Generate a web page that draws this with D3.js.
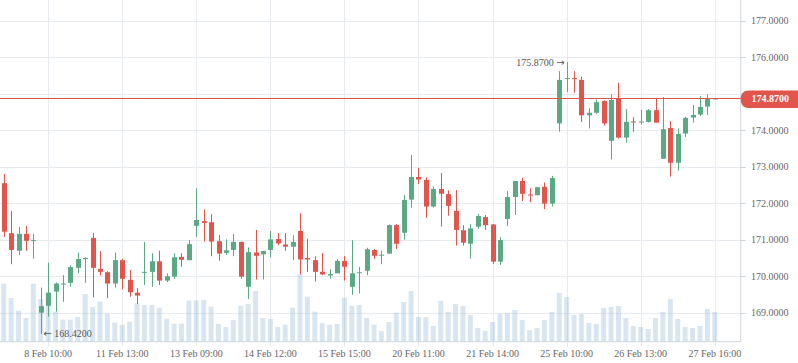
<!DOCTYPE html>
<html><head><meta charset="utf-8">
<script src="https://cdn.jsdelivr.net/npm/d3@7"></script>
<style>html,body{margin:0;padding:0;background:#fff;overflow:hidden}</style>
</head><body><svg id="c" width="798" height="363"></svg>
<script>
const opens  = [172.55,171.18,170.70,171.16,170.97,169.00,169.19,169.58,169.78,169.82,170.23,170.47,171.05,170.20,170.11,169.80,170.44,169.90,169.55,170.10,170.12,170.41,169.88,169.99,170.53,170.44,171.38,171.51,171.48,170.96,170.64,170.72,170.94,169.71,170.65,170.60,170.72,171.02,170.87,170.81,171.24,170.50,170.44,170.12,170.02,170.08,170.42,169.71,170.09,170.15,170.72,170.57,170.62,171.40,171.19,172.10,172.72,172.64,171.91,172.39,172.25,171.79,171.26,170.89,171.36,171.62,171.42,170.40,171.57,172.17,172.61,172.24,172.22,172.45,171.99,174.19,175.41,175.43,175.38,174.41,174.48,174.80,173.71,174.88,173.80,174.24,174.22,174.23,174.55,173.22,174.06,173.11,173.91,174.35,174.43,174.65,174.87];
const highs  = [172.80,171.79,171.35,171.38,171.16,169.69,170.37,169.83,170.03,170.30,170.65,170.52,171.19,170.69,170.14,170.65,170.48,170.17,169.67,170.94,170.63,170.70,170.08,170.63,170.63,170.99,172.41,171.83,171.70,171.13,171.01,171.16,170.95,170.79,171.27,170.70,171.24,171.18,171.18,171.12,171.72,171.03,170.55,170.63,170.19,170.47,170.55,170.99,170.25,170.78,170.75,170.70,171.42,171.43,172.22,173.32,172.97,172.71,172.46,172.83,172.35,172.36,171.40,171.43,171.71,171.68,171.43,171.07,172.34,172.61,172.70,172.41,172.45,172.57,172.75,175.62,175.87,175.62,175.47,174.60,174.85,174.82,174.99,175.30,174.58,174.36,174.56,174.58,174.89,174.91,174.25,174.05,174.37,174.69,174.94,174.99,174.87];
const lows   = [171.08,170.33,170.58,170.70,170.48,168.42,168.89,169.03,169.30,169.71,170.08,169.82,169.42,170.02,169.40,169.69,169.64,169.44,169.24,169.76,169.71,169.76,169.84,169.93,170.26,170.44,171.08,170.95,170.55,170.43,170.58,170.55,169.93,169.38,169.91,169.91,170.51,170.85,170.70,170.44,170.05,170.12,169.85,170.03,169.93,170.08,169.88,169.49,169.53,170.03,170.48,170.33,170.62,170.75,171.00,171.88,172.53,171.60,171.88,171.36,171.66,170.84,170.84,170.48,171.30,171.27,170.34,170.31,171.38,171.68,172.06,172.03,172.22,171.84,171.91,173.96,175.05,175.03,174.23,174.05,174.45,174.13,173.20,173.77,173.66,173.96,174.16,174.21,174.21,173.22,172.73,172.89,173.82,174.21,174.39,174.42,174.87];
const closes = [171.22,170.72,171.16,170.97,170.99,169.18,169.55,169.80,169.80,170.25,170.47,170.50,170.23,170.12,169.80,170.44,169.93,169.56,169.47,170.12,170.41,169.88,170.00,170.52,170.45,170.88,171.54,171.46,170.95,170.62,170.71,170.94,169.99,170.66,170.56,170.69,171.01,170.90,170.81,170.94,170.46,170.46,170.12,170.05,170.06,170.42,170.26,170.08,170.11,170.74,170.56,170.59,171.40,170.89,172.09,172.72,172.65,171.91,172.39,172.26,171.93,171.27,170.92,171.31,171.65,171.40,170.40,170.99,172.17,172.61,172.26,172.22,172.44,171.99,172.69,175.38,175.43,175.41,174.41,174.48,174.77,174.19,174.83,173.80,174.23,174.22,174.24,174.55,174.21,174.03,173.11,173.90,174.34,174.42,174.64,174.87,174.87];
const volumes = [58,43.7,31,23.7,58,42.7,49,30,22,22,24.7,47.7,34.7,40,27.7,19,17,20,38.4,36.7,36.7,34,23,18,18,41,41.4,41.7,35,17.7,14.7,21.7,36,37.7,50.7,23.7,22.7,14.7,17,34,67.7,45,30,18.7,17,17.7,44,36,36.7,23.7,17,10.7,19.7,29,39.7,50.7,24.7,24.7,15.7,40.7,29.7,37.7,35.7,26.7,13.7,10.7,19.7,27.7,28.7,31.7,21.7,11.7,13.7,21.7,29.7,48.7,44.7,26.7,27.7,18.7,17.7,33.7,34.7,35.7,23.7,15.7,14.7,12.7,23.7,29.7,42.7,22.7,14.7,13.7,15.7,32.7,29.7];
const tickIndices = [6,16,26,36,46,56,66,76,86,96];
const tickLabels = ["8 Feb 10:00","11 Feb 13:00","13 Feb 09:00","14 Feb 12:00","15 Feb 15:00","20 Feb 11:00","21 Feb 14:00","25 Feb 10:00","26 Feb 13:00","27 Feb 16:00"];
const priceTicks = [169,170,171,172,173,174,175,176,177];
const slots = 100;

const W = 740.7, H = 341.7;
const green = "#5aa884", red = "#e2554c";
const svg = d3.select("#c");
const font = "'Liberation Serif', 'Times New Roman', serif";
const arrowFont = "'DejaVu Sans', sans-serif";

const x = d3.scaleBand().domain(d3.range(slots)).range([0, W]).paddingInner(0.33).paddingOuter(0.165);
const cx = i => x(i) + x.bandwidth() / 2;
const y = d3.scaleLinear().domain([168.206, 177.570]).range([H, 0]);
const yv = d3.scaleLinear().domain([0, 100]).range([H, H - 100]);

const data = opens.map((o, i) => ({i, o, h: highs[i], l: lows[i], c: closes[i], v: volumes[i]}));
const last = closes[closes.length - 1];
const ly = y(last);

// grid
const g = svg.append("g");
g.selectAll(".hg").data(priceTicks).join("line")
  .attr("x1", 0).attr("x2", W).attr("y1", d => Math.round(y(d)) + 0.5).attr("y2", d => Math.round(y(d)) + 0.5)
  .attr("stroke", "#e7eaee").attr("stroke-width", 1);
g.selectAll(".vg").data(tickIndices).join("line")
  .attr("x1", d => Math.round(cx(d)) + 0.5).attr("x2", d => Math.round(cx(d)) + 0.5)
  .attr("y1", 0).attr("y2", H + 5)
  .attr("stroke", "#e7eaee").attr("stroke-width", 1);

// volume bars
svg.append("g").selectAll("rect").data(data).join("rect")
  .attr("x", d => x(d.i)).attr("width", x.bandwidth())
  .attr("y", d => yv(d.v)).attr("height", d => H - yv(d.v))
  .attr("fill", "rgba(150,185,220,0.36)");

// candles
const cg = svg.append("g").selectAll("g").data(data).join("g");
cg.append("line")
  .attr("x1", d => Math.round(cx(d.i)) + 0.5).attr("x2", d => Math.round(cx(d.i)) + 0.5)
  .attr("y1", d => y(d.h)).attr("y2", d => y(d.l))
  .attr("stroke", d => d.c >= d.o ? green : red).attr("stroke-width", 1);
cg.append("rect")
  .attr("x", d => Math.round(cx(d.i)) - 2).attr("width", 5)
  .attr("y", d => Math.min(y(d.o), y(d.c)))
  .attr("height", d => Math.max(1, Math.abs(y(d.o) - y(d.c))))
  .attr("fill", d => d.c >= d.o ? green : red);

// axes lines
svg.append("line").attr("x1", 0).attr("x2", W).attr("y1", H).attr("y2", H).attr("stroke", "#cfd5dc");
svg.append("line").attr("x1", W).attr("x2", W).attr("y1", 0).attr("y2", H).attr("stroke", "#cfd5dc");

// y axis ticks & labels (labels hidden where the last-price tag sits)
const visibleTicks = priceTicks.filter(d => Math.abs(y(d) - ly) > 12);
const ya = svg.append("g");
ya.selectAll("line").data(visibleTicks).join("line")
  .attr("x1", W).attr("x2", W + 5).attr("y1", d => Math.round(y(d)) + 0.5).attr("y2", d => Math.round(y(d)) + 0.5)
  .attr("stroke", "#cfd5dc");
ya.selectAll("text").data(visibleTicks).join("text")
  .attr("x", 751).attr("y", d => y(d)).attr("dy", "0.35em")
  .attr("font-family", font).attr("font-size", 10).attr("fill", "#666")
  .text(d => d.toFixed(4));

// x axis labels
svg.append("g").selectAll("text").data(tickIndices).join("text")
  .attr("x", d => cx(d)).attr("y", 357).attr("text-anchor", "middle")
  .attr("font-family", font).attr("font-size", 10).attr("fill", "#666")
  .text((d, k) => tickLabels[k]);

// last price line + tag
svg.append("line").attr("x1", 0).attr("x2", W).attr("y1", ly).attr("y2", ly)
  .attr("stroke", red).attr("stroke-width", 1.1);
const t0 = Math.round(ly) - 8.5, t1 = Math.round(ly) + 9;
svg.append("path")
  .attr("d", `M${W},${ly} C${W},${t0 + 3} ${W + 3},${t0} ${W + 8},${t0} L798,${t0} L798,${t1} L${W + 8},${t1} C${W + 3},${t1} ${W},${t1 - 3} ${W},${ly} Z`)
  .attr("fill", red);
svg.append("text").attr("x", 751.5).attr("y", ly).attr("dy", "0.35em")
  .attr("font-family", font).attr("font-size", 10).attr("font-weight", "bold").attr("fill", "#fff")
  .text(last.toFixed(4));

// max / min annotations
const maxI = d3.maxIndex(highs), minI = d3.minIndex(lows);
const hiT = svg.append("text").attr("x", cx(maxI) - 2).attr("y", y(highs[maxI])).attr("dy", "0.35em")
  .attr("text-anchor", "end").attr("font-family", font).attr("font-size", 10).attr("fill", "#555");
hiT.append("tspan").text(highs[maxI].toFixed(4) + " ");
hiT.append("tspan").attr("font-family", arrowFont).attr("font-size", 10).text("\u2192");
const loT = svg.append("text").attr("x", cx(minI) + 2.5).attr("y", y(lows[minI])).attr("dy", "0.35em")
  .attr("text-anchor", "start").attr("font-family", font).attr("font-size", 10).attr("fill", "#555");
loT.append("tspan").attr("font-family", arrowFont).attr("font-size", 10).text("\u2190");
loT.append("tspan").text(" " + lows[minI].toFixed(4));
</script></body></html>
